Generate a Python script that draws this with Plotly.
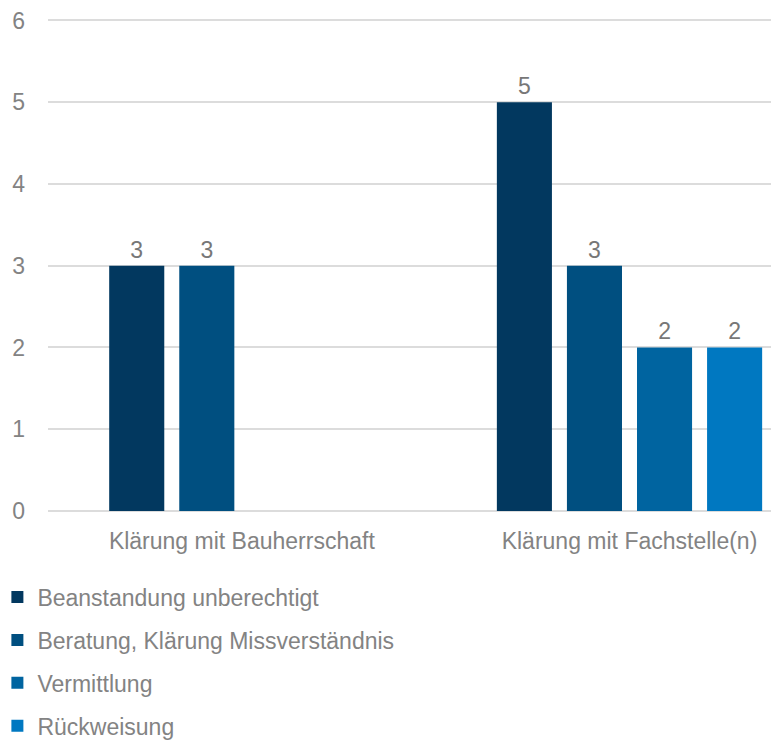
import plotly.graph_objects as go

categories = ["Klärung mit Bauherrschaft", "Klärung mit Fachstelle(n)"]
series_names = ["Beanstandung unberechtigt", "Beratung, Klärung Missverständnis", "Vermittlung", "Rückweisung"]
beanstandung = [3, 5]
beratung = [3, 3]
vermittlung = [None, 2]
rueckweisung = [None, 2]
colors = ["#02385f", "#004f80", "#0064a0", "#0078c1"]
y_ticks = [0, 1, 2, 3, 4, 5, 6]

FONT = "Liberation Sans"
GRAY = "#838383"
FS = 23

fig = go.Figure()
for i, (name, vals) in enumerate(zip(series_names, [beanstandung, beratung, vermittlung, rueckweisung])):
    fig.add_trace(go.Bar(
        x=categories, y=vals, name=name,
        marker=dict(color=colors[i], line=dict(width=0)),
        text=[("" if v is None else str(v)) for v in vals],
        textposition="outside",
        textfont=dict(family=FONT, size=FS, color="#777777"),
        cliponaxis=False,
        legendgroup=f"g{i}",
    ))

fig.update_layout(
    width=771, height=740,
    margin=dict(l=48, r=0, t=18, b=229, autoexpand=False),
    paper_bgcolor="white", plot_bgcolor="white",
    barmode="group", bargap=0.277, bargroupgap=0.214,
    font=dict(family=FONT, color=GRAY, size=FS),
    showlegend=True,
    legend=dict(
        orientation="v", x=-0.07, xanchor="left", y=-0.131, yanchor="top",
        font=dict(family=FONT, size=FS, color=GRAY),
        traceorder="grouped", tracegroupgap=10,
        itemclick=False,
    ),
    xaxis=dict(
        type="category", range=[-0.5, 1.365],
        showgrid=False, showline=False, zeroline=False,
        tickfont=dict(family=FONT, size=FS, color=GRAY),
        ticks="", ticklabelstandoff=14,
    ),
    yaxis=dict(
        range=[0, 6.03], tickvals=y_ticks,
        showgrid=True, gridcolor="#dcdcdc", gridwidth=2,
        zeroline=True, zerolinecolor="#dcdcdc", zerolinewidth=2,
        showline=False, ticks="",
        tickfont=dict(family=FONT, size=FS, color=GRAY),
        ticklabelstandoff=22,
    ),
)

fig.write_html("out.html", config={"displayModeBar": False},
               post_script="document.body.style.margin='0px';")
